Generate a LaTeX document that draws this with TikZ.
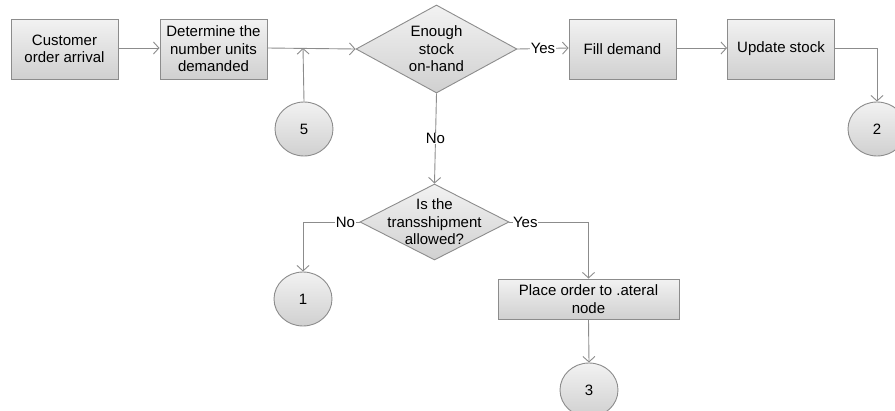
\documentclass[tikz,border=0pt]{standalone}
\usepackage{fontspec}
\setmainfont{Liberation Sans}
\usetikzlibrary{arrows.meta,shapes.geometric}

\definecolor{edgegray}{HTML}{8C8C8C}
\definecolor{shadetop}{HTML}{F2F2F2}
\definecolor{shadebot}{HTML}{D0D0D0}

\begin{document}
\begin{tikzpicture}[x=1pt,y=-1pt,
  txt/.style={font=\fontsize{15}{17.5}\selectfont, align=center},
  procbox/.style={draw=edgegray, line width=0.9pt, top color=shadetop, bottom color=shadebot,
    minimum width=107pt, minimum height=60pt, inner sep=0pt, txt},
  decision/.style={diamond, draw=edgegray, line width=0.9pt, top color=shadetop, bottom color=shadebot,
    inner sep=0pt},
  connector/.style={ellipse, draw=edgegray, line width=0.9pt, top color=shadetop, bottom color=shadebot,
    minimum width=58pt, minimum height=54pt, inner sep=0pt, txt},
  flow/.style={draw=edgegray, line width=0.9pt, -{Straight Barb[length=5.5pt,width=12pt]}},
  tag/.style={txt, fill=white, inner sep=0.5pt}
]
\useasboundingbox (0,0) rectangle (895,410);
\clip (0,0) rectangle (895,410);

% process boxes
\node[procbox] (arrival) at (64.5,49) {Customer\\order arrival};
\node[procbox] (units) at (213.5,49) {Determine the\\number units\\demanded};
\node[procbox] (fill) at (622.5,49) {Fill demand};
\node[procbox] (update) at (781,49) {Update stock};
\node[procbox, minimum width=181pt, minimum height=40pt] (lateral) at (588.5,299) {Place order to .ateral\\node};

% decisions
\node[decision, minimum width=161pt, minimum height=88pt,
  label={[txt]center:Enough\\stock\\on-hand}] (enough) at (436.5,49) {};
\node[decision, minimum width=149pt, minimum height=76pt,
  label={[txt]center:Is the\\transshipment\\allowed?}] (trans) at (434.5,222) {};

% off-page connectors
\node[connector] (c5) at (304,129) {5};
\node[connector] (c2) at (877,129) {2};
\node[connector] (c1) at (303,299) {1};
\node[connector] (c3) at (589,390) {3};

% junction on the main line
\coordinate (join) at (303,48);

% connectors
\draw[flow] (arrival.east |- 0,48) -- (units.west |- 0,48);
\draw[flow] (units.east |- 0,48) -- (enough.west);
\draw[flow] (c5.north) -- (join);
\draw[flow] (enough.east) -- node[tag] {Yes} (fill.west |- 0,48);
\draw[flow] (fill.east |- 0,48) -- (update.west |- 0,48);
\draw[flow] (update.east |- 0,48) -| (c2.north);
\draw[flow] (enough.south) -- node[tag] {No} (trans.north);
\draw[flow] (trans.west) -- node[tag, pos=0.25] {No} (c1.north |- trans.west) -- (c1.north);
\draw[flow] (trans.east) -- node[tag, pos=0.2] {Yes} (lateral.north |- trans.east) -- (lateral.north);
\draw[flow] (lateral.south) -- (c3.north);
\end{tikzpicture}
\end{document}
